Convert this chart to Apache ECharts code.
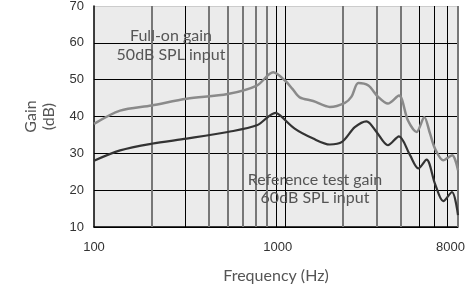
<!DOCTYPE html>
<html>
<head>
    <meta charset="UTF-8">
    <title>Gain vs frequency</title>
    <style>
        html, body { margin: 0; padding: 0; background: #fff; }
    </style>
</head>
<body>
    <div id="container" style="width: 469px;height: 287px;"></div>
    <script src="https://cdn.jsdelivr.net/npm/echarts@6/dist/echarts.min.js"></script>
    <script type="text/javascript">
        // full-on gain, 50dB SPL input  [Hz, dB]
        var fullOnFreq = [100, 137, 200, 305, 500, 710, 865, 1000, 1090, 1190, 1400, 1710, 2050, 2220, 2410, 2720, 3050, 3440, 3930, 4380, 4860, 5330, 5710, 6060, 6700, 7460, 8000];
        var fullOnGain = [38, 41.6, 43, 44.8, 46.1, 48.4, 52, 49.7, 47.5, 45.2, 44.2, 42.6, 43.7, 45.4, 49.1, 48.4, 45.4, 43.5, 45.7, 38.9, 35.8, 39.8, 35.4, 31.3, 28.1, 29.5, 25.4];

        // reference test gain, 60dB SPL input
        var refFreq = [100, 137, 200, 305, 500, 710, 890, 940, 1120, 1400, 1710, 1980, 2310, 2660, 3000, 3440, 3930, 4490, 4960, 5480, 6060, 6700, 7440, 8000];
        var refGain = [28, 30.8, 32.6, 34, 35.8, 37.6, 41, 40.3, 36.7, 34, 32.4, 33.1, 37.1, 38.7, 35.8, 32.2, 34.6, 29.5, 25.9, 28.3, 21.8, 17, 19.5, 13.2];

        // vertical grid lines and their shade
        var gridFreqs = [200, 300, 400, 500, 600, 700, 800, 900, 1000, 2000, 3000, 4000, 5000, 6000, 7000, 8000];
        var gridDark = [false, true, false, false, false, false, false, true, true, false, false, false, true, true, true, false];

        var xTickLabels = [100, 1000, 8000];

        function pairs(xs, ys) {
            return xs.map(function (x, i) { return [x, ys[i]]; });
        }

        var myChart = echarts.init(document.getElementById('container'));
        var option = {
            animation: false,
            backgroundColor: '#fff',
            grid: {
                left: 94,
                right: 11,
                top: 6,
                bottom: 60,
                outerBoundsMode: 'none',
                show: true,
                backgroundColor: '#ebebeb',
                borderWidth: 0
            },
            xAxis: {
                type: 'log',
                logBase: 10,
                min: 100,
                max: 8000,
                name: 'Frequency (Hz)',
                nameLocation: 'middle',
                nameGap: 41,
                nameTextStyle: { fontFamily: 'Lato', fontSize: 16, color: '#555' },
                axisLine: { show: true, lineStyle: { color: '#000', width: 1.5 } },
                axisTick: { show: false },
                splitLine: { show: false },
                axisLabel: {
                    fontFamily: 'Liberation Sans',
                    fontSize: 13,
                    color: '#333',
                    margin: 14,
                    showMinLabel: true,
                    showMaxLabel: true,
                    formatter: function (v) {
                        var r = Math.round(v);
                        if (xTickLabels.indexOf(r) < 0) return '';
                        return r === 100 ? String(r) : '{s|' + r + '}';
                    },
                    rich: {
                        s: { fontFamily: 'Liberation Sans', fontSize: 13, color: '#333', padding: [0, 15, 0, 0] }
                    }
                }
            },
            yAxis: {
                type: 'value',
                min: 10,
                max: 70,
                interval: 10,
                name: 'Gain\n(dB)',
                nameLocation: 'middle',
                nameRotate: 90,
                nameGap: 36,
                nameTextStyle: { fontFamily: 'Lato', fontSize: 16, color: '#555', lineHeight: 18 },
                axisLine: { show: true, lineStyle: { color: '#000', width: 1.5 } },
                axisTick: { show: false },
                axisLabel: { fontFamily: 'Liberation Sans', fontSize: 13, color: '#333', margin: 10 },
                splitLine: {
                    show: true,
                    lineStyle: { color: ['#000', '#000', '#000', '#000', '#000', '#000', '#ccc'], width: 1 }
                }
            },
            graphic: [
                {
                    type: 'text', x: 171, y: 26, z: 10,
                    style: { text: 'Full-on gain\n50dB SPL input', fill: '#555', font: '16px Lato', align: 'center', lineHeight: 19 }
                },
                {
                    type: 'text', x: 315, y: 171, z: 10,
                    style: { text: 'Reference test gain\n60dB SPL input', fill: '#555', font: '16px Lato', align: 'center', lineHeight: 18 }
                }
            ],
            series: [
                {
                    name: 'grid',
                    type: 'line',
                    data: [],
                    silent: true,
                    markLine: {
                        silent: true,
                        symbol: 'none',
                        label: { show: false },
                        data: gridFreqs.map(function (f, i) {
                            return {
                                xAxis: f,
                                lineStyle: gridDark[i]
                                    ? { color: '#000', width: 1, type: 'solid' }
                                    : { color: '#777', width: 2, type: 'solid' }
                            };
                        })
                    }
                },
                {
                    name: 'Full-on gain',
                    type: 'line',
                    data: pairs(fullOnFreq, fullOnGain),
                    smooth: 0.3,
                    showSymbol: false,
                    z: 5,
                    lineStyle: { color: '#8a8a8a', width: 2.5 }
                },
                {
                    name: 'Reference test gain',
                    type: 'line',
                    data: pairs(refFreq, refGain),
                    smooth: 0.3,
                    showSymbol: false,
                    z: 6,
                    lineStyle: { color: '#333', width: 2.2 }
                }
            ]
        };
        myChart.setOption(option);
    </script>
</body>
</html>
